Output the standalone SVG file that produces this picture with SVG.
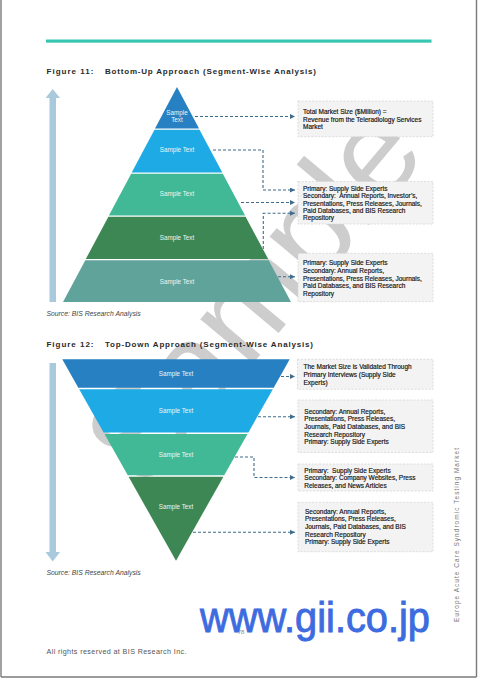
<svg xmlns="http://www.w3.org/2000/svg" width="480" height="679" viewBox="0 0 480 679">
<defs>
<style>
.t{font-family:"Liberation Sans",Arial,sans-serif}
.title{font-family:"Liberation Sans",Arial,sans-serif;font-size:8px;font-weight:bold;fill:#2a2a2a}
.st{font-family:"Liberation Sans",Arial,sans-serif;font-size:6.3px;fill:#eef6f4;text-anchor:middle}
.bx{fill:#f3f3f3;stroke:#d6d6d6;stroke-width:0.8;stroke-dasharray:2 1.5}
.bt{font-family:"Liberation Sans",Arial,sans-serif;font-size:6.5px;fill:#151515;stroke:#151515;stroke-width:0.18}
.src{font-family:"Liberation Sans",Arial,sans-serif;font-size:6.8px;font-style:italic;fill:#444}
.cn{fill:none;stroke:#3f6b8c;stroke-width:1.1;stroke-dasharray:3 2;marker-end:url(#ah)}
.ar{fill:#a9c9dc}
</style>
<marker id="ah" viewBox="0 0 6 6" refX="6" refY="3" markerWidth="5" markerHeight="5" markerUnits="userSpaceOnUse" orient="auto">
<path d="M0,0 L6,3 L0,6 z" fill="#3f6b8c"/>
</marker>
</defs>
<rect width="480" height="679" fill="#fff"/>
<!-- watermark -->
<text class="t" x="0" y="0" font-size="130" fill="#cdcdcd" transform="translate(145 492) rotate(-50)">Sample</text>
<!-- page frame -->
<g stroke="#7a7a7a" stroke-width="1.4" fill="none">
<line x1="1" y1="0" x2="1" y2="677"/>
<line x1="476.5" y1="0" x2="476.5" y2="677"/>
<line x1="1" y1="677" x2="476.5" y2="677"/>
</g>
<rect x="46" y="39.5" width="385.5" height="3.2" fill="#38c6b2"/>
<!-- Figure 11 -->
<text class="title" x="46.5" y="73.5" textLength="47" lengthAdjust="spacing">Figure 11:</text>
<text class="title" x="105" y="73.5" textLength="211" lengthAdjust="spacing">Bottom-Up Approach (Segment-Wise Analysis)</text>
<g id="up-arrow">
<rect class="ar" x="49.5" y="97" width="6.5" height="205"/>
<polygon class="ar" points="45.5,98 52.7,89 60,98"/>
</g>
<g id="p1">
<polygon points="177,87 199,128.5 155,128.5" fill="#2680c2"/>
<text class="st" x="177" y="114.5">Sample</text>
<text class="st" x="177" y="122">Text</text>
</g>
<g id="p2">
<polygon points="154.5,129.7 199.5,129.7 222.3,172.5 131.7,172.5" fill="#1eaae4"/>
<text class="st" x="177" y="152.3">Sample Text</text>
</g>
<g id="p3">
<polygon points="131.2,173.8 222.8,173.8 245.1,215.5 108.9,215.5" fill="#41b996"/>
<text class="st" x="177" y="196.3">Sample Text</text>
</g>
<g id="p4">
<polygon points="108.4,216.8 245.6,216.8 268.2,259 85.8,259" fill="#3c8753"/>
<text class="st" x="177" y="240.3">Sample Text</text>
</g>
<g id="p5">
<polygon points="85.3,260.3 268.7,260.3 291,302 63,302" fill="#5fa39a"/>
<text class="st" x="177" y="284">Sample Text</text>
</g>
<g id="b1">
<rect class="bx" x="298" y="101" width="135" height="35.7"/>
<text class="bt" x="303" y="114">Total Market Size ($Million) =</text>
<text class="bt" x="303" y="121.5">Revenue from the Teleradiology Services</text>
<text class="bt" x="303" y="129">Market</text>
</g>
<g id="b2">
<rect class="bx" x="298" y="181.5" width="135" height="42.5"/>
<text class="bt" x="303" y="190.6">Primary: Supply Side Experts</text>
<text class="bt" x="303" y="198" xml:space="preserve">Secondary:  Annual Reports, Investor’s,</text>
<text class="bt" x="303" y="205.6">Presentations, Press Releases, Journals,</text>
<text class="bt" x="303" y="213">Paid Databases, and BIS Research</text>
<text class="bt" x="303" y="220.3">Repository</text>
</g>
<g id="b3">
<rect class="bx" x="298" y="253.3" width="135" height="48.4"/>
<text class="bt" x="303" y="265">Primary: Supply Side Experts</text>
<text class="bt" x="303" y="272.8">Secondary: Annual Reports,</text>
<text class="bt" x="303" y="280.5">Presentations, Press Releases, Journals,</text>
<text class="bt" x="303" y="288.2">Paid Databases, and BIS Research</text>
<text class="bt" x="303" y="295.7">Repository</text>
</g>
<text class="src" x="46.5" y="315.5">Source: BIS Research Analysis</text>
<!-- Figure 12 -->
<text class="title" x="46.5" y="347.3" textLength="47" lengthAdjust="spacing">Figure 12:</text>
<text class="title" x="105" y="347.3" textLength="208" lengthAdjust="spacing">Top-Down Approach (Segment-Wise Analysis)</text>
<g id="down-arrow">
<rect class="ar" x="49.5" y="363" width="6.5" height="190"/>
<polygon class="ar" points="45.5,552 52.7,561.5 60,552"/>
</g>
<g id="q1">
<polygon points="62.3,359.3 289.7,359.3 273.7,387.7 78.3,387.7" fill="#2680c2"/>
<text class="st" x="176" y="375.6">Sample Text</text>
</g>
<g id="q2">
<polygon points="79.2,389.2 272.8,389.2 248.4,432.5 103.6,432.5" fill="#1eaae4"/>
<text class="st" x="176" y="413">Sample Text</text>
</g>
<g id="q3">
<polygon points="104.5,434 247.5,434 224.2,475.3 127.8,475.3" fill="#41b996"/>
<text class="st" x="176" y="457.3">Sample Text</text>
</g>
<g id="q4">
<polygon points="128.6,476.8 223.4,476.8 176,560.7" fill="#3c8753"/>
<text class="st" x="176" y="509">Sample Text</text>
</g>
<g id="b4">
<rect class="bx" x="297.5" y="359.3" width="135.5" height="30"/>
<text class="bt" x="303.5" y="369">The Market Size is Validated Through</text>
<text class="bt" x="303.5" y="376.7">Primary Interviews (Supply Side</text>
<text class="bt" x="303.5" y="384.5">Experts)</text>
</g>
<g id="b5">
<rect class="bx" x="298" y="400" width="135" height="52.5"/>
<text class="bt" x="304.3" y="413.6">Secondary: Annual Reports,</text>
<text class="bt" x="304.3" y="421">Presentations, Press Releases,</text>
<text class="bt" x="304.3" y="429">Journals, Paid Databases, and BIS</text>
<text class="bt" x="304.3" y="436.6">Research Repository</text>
<text class="bt" x="304.3" y="444.3">Primary: Supply Side Experts</text>
</g>
<g id="b6">
<rect class="bx" x="298" y="464" width="135" height="27"/>
<text class="bt" x="304.3" y="472.5" xml:space="preserve">Primary:  Supply Side Experts</text>
<text class="bt" x="304.3" y="480">Secondary: Company Websites, Press</text>
<text class="bt" x="304.3" y="487.6">Releases, and News Articles</text>
</g>
<g id="b7">
<rect class="bx" x="298" y="502.3" width="135" height="49.4"/>
<text class="bt" x="305" y="514">Secondary: Annual Reports,</text>
<text class="bt" x="305" y="521.3">Presentations, Press Releases,</text>
<text class="bt" x="305" y="529">Journals, Paid Databases, and BIS</text>
<text class="bt" x="305" y="536.6">Research Repository</text>
<text class="bt" x="305" y="544">Primary: Supply Side Experts</text>
</g>
<text class="src" x="46.5" y="575">Source: BIS Research Analysis</text>
<!-- connectors -->
<g id="connectors">
<path class="cn" d="M195,116.5 H295"/>
<path class="cn" d="M213,150 H263 V190 H295"/>
<path class="cn" d="M241,202.5 H295"/>
<path class="cn" d="M263.3,249 V213.3 H295"/>
<path class="cn" d="M278,276.7 H295"/>
<path class="cn" d="M281,376.5 H295"/>
<path class="cn" d="M258,416.7 H295"/>
<path class="cn" d="M235,457 H254 V477.5 H295"/>
<path class="cn" d="M193,532.3 H295"/>
</g>
<!-- footer -->
<text class="t" x="241" y="634" font-size="6" fill="#8a8a8a" text-anchor="middle">78</text>
<text class="t" x="200" y="631.5" font-size="42" fill="#3d6be0" stroke="#3d6be0" stroke-width="0.9" textLength="230" lengthAdjust="spacingAndGlyphs">www.gii.co.jp</text>
<text class="t" x="46.5" y="654" font-size="7.2" fill="#555" textLength="140" lengthAdjust="spacing">All rights reserved at BIS Research Inc.</text>
<text class="t" x="0" y="0" font-size="6.5" fill="#777" textLength="174" lengthAdjust="spacing" transform="translate(459 622) rotate(-90)">Europe Acute Care Syndromic Testing Market</text>
</svg>
